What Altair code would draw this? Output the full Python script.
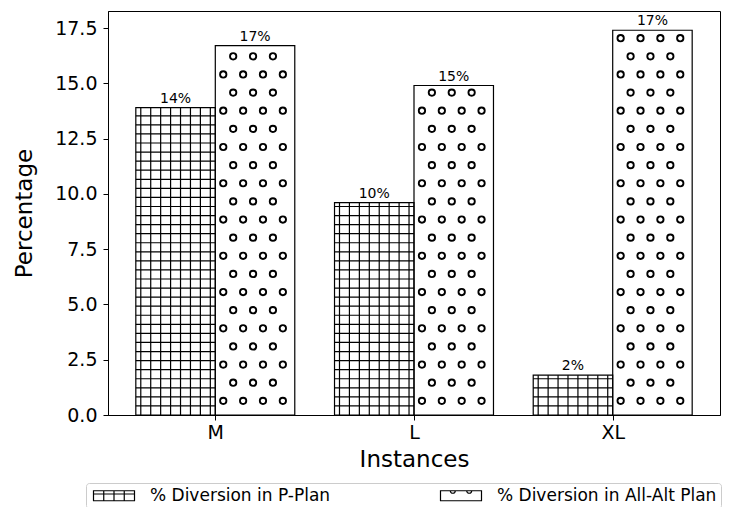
import json
import altair as alt
import pandas as pd

# ---- data ----
instances = ["M", "L", "XL"]
series_names = ["% Diversion in P-Plan", "% Diversion in All-Alt Plan"]
p_plan = [13.9, 9.6, 1.8]
all_alt = [16.7, 14.9, 17.4]
y_ticks = [0, 2.5, 5, 7.5, 10, 12.5, 15, 17.5]

rows = []
for i, inst in enumerate(instances):
    rows.append(dict(idx=i, instance=inst, series=series_names[0], s=0, value=p_plan[i]))
    rows.append(dict(idx=i, instance=inst, series=series_names[1], s=1, value=all_alt[i]))
df = pd.DataFrame(rows)

FONT = "DejaVu Sans"
xscale = alt.Scale(domain=[-0.54, 2.54], nice=False, zero=False)
yscale = alt.Scale(domain=[0, 18.27], nice=False, zero=True)

label_expr = json.dumps(instances) + "[datum.value]"
xaxis = alt.Axis(values=[0, 1, 2], labelExpr=label_expr, tickSize=5,
                 labelPadding=3, titlePadding=6)
yaxis = alt.Axis(values=y_ticks, format=".1f", tickSize=5, labelPadding=6,
                 titlePadding=18)


def X(field):
    return alt.X(field, scale=xscale, axis=xaxis, title="Instances")


def Y(field):
    return alt.Y(field, scale=yscale, axis=yaxis, title="Percentage")


base = alt.Chart(df).transform_calculate(
    xl="datum.idx + (datum.s == 0 ? -0.4 : 0)",
    xr="datum.idx + (datum.s == 0 ? 0 : 0.4)",
)

# grid hatch: vertical lines
vlines = (
    base.transform_filter("datum.s == 0")
    .transform_calculate(v="sequence(0.025, 0.4, 0.05)")
    .transform_flatten(["v"])
    .transform_calculate(xv="datum.xl + datum.v")
    .mark_rule(color="black", strokeWidth=1.2)
    .encode(x=X("xv:Q"), y=Y("value:Q"), y2=alt.datum(0))
)

# grid hatch: horizontal lines
hlines = (
    base.transform_filter("datum.s == 0")
    .transform_calculate(h="sequence(0.41, datum.value, 0.41)")
    .transform_flatten(["h"])
    .mark_rule(color="black", strokeWidth=1.2)
    .encode(x=X("xl:Q"), x2="xr:Q", y=Y("h:Q"))
)

# circle hatch
circles = (
    base.transform_filter("datum.s == 1")
    .transform_calculate(k="sequence(0, floor((datum.value - 0.79) / 0.82) + 1)")
    .transform_flatten(["k"])
    .transform_calculate(
        cy="0.64 + 0.82 * datum.k",
        c="datum.k % 2 == 0 ? [0.04, 0.14, 0.24, 0.34] : [0.09, 0.19, 0.29]",
    )
    .transform_flatten(["c"])
    .transform_calculate(cx="datum.xl + datum.c")
    .mark_point(shape="circle", filled=False, color="black", size=40, strokeWidth=1.9, opacity=1)
    .encode(x=X("cx:Q"), y=Y("cy:Q"))
)

outline = base.mark_rect(fill="transparent", stroke="black", strokeWidth=1.2).encode(
    x=X("xl:Q"), x2="xr:Q", y=Y("value:Q"), y2=alt.datum(0)
)

texts = (
    base.transform_calculate(
        xm="(datum.xl + datum.xr) / 2",
        lbl="format(datum.value, '.0f') + '%'",
    )
    .mark_text(dy=-5, baseline="alphabetic", fontSize=14, font=FONT, color="black")
    .encode(x=X("xm:Q"), y=Y("value:Q"), text="lbl:N")
)

path_p = "M-1,-1H7.2V1H-1Z M1.05,-1V1 M3.1,-1V1 M5.15,-1V1 M-1,-0.35H7.2"
path_a = "M-1,-1H7.2V1H-1Z M0.96,-1A0.5,0.5 0 0 0 1.96,-1 M4.24,-1A0.5,0.5 0 0 0 5.24,-1"

legend_layer = (
    base.transform_filter("false")
    .mark_point(filled=False, color="black", size=100, strokeWidth=1.2, opacity=1)
    .encode(
        x=X("xl:Q"),
        y=Y("value:Q"),
        shape=alt.Shape(
            "series:N",
            scale=alt.Scale(domain=series_names, range=[path_p, path_a]),
            legend=alt.Legend(
                orient="none",
                legendX=-22,
                legendY=472,
                direction="horizontal",
                columns=2,
                title=None,
                labelFontSize=17,
                labelFont=FONT,
                labelColor="black",
                labelLimit=600,
                labelOffset=43,
                symbolSize=100,
                symbolStrokeColor="black",
                symbolStrokeWidth=1.2,
                symbolFillColor="white",
                symbolOpacity=1,
                padding=4,
                strokeColor="#cccccc",
                fillColor="white",
                cornerRadius=3,
                columnPadding=106,
            ),
        ),
    )
)

chart = (
    alt.layer(vlines, hlines, circles, outline, texts, legend_layer)
    .properties(
        width=612,
        height=404,
        autosize=alt.AutoSizeParams(type="none"),
        padding={"left": 100, "top": 3, "right": 10, "bottom": 92},
        background="white",
    )
    .configure_view(stroke="black", strokeWidth=1)
    .configure_axis(
        labelFont=FONT,
        titleFont=FONT,
        labelFontSize=19,
        titleFontSize=23,
        titleFontWeight="normal",
        labelColor="black",
        titleColor="black",
        tickColor="black",
        domainColor="black",
        grid=False,
    )
    .configure_text(font=FONT)
)

chart.save("out.html", embed_options={"renderer": "svg", "actions": False})
